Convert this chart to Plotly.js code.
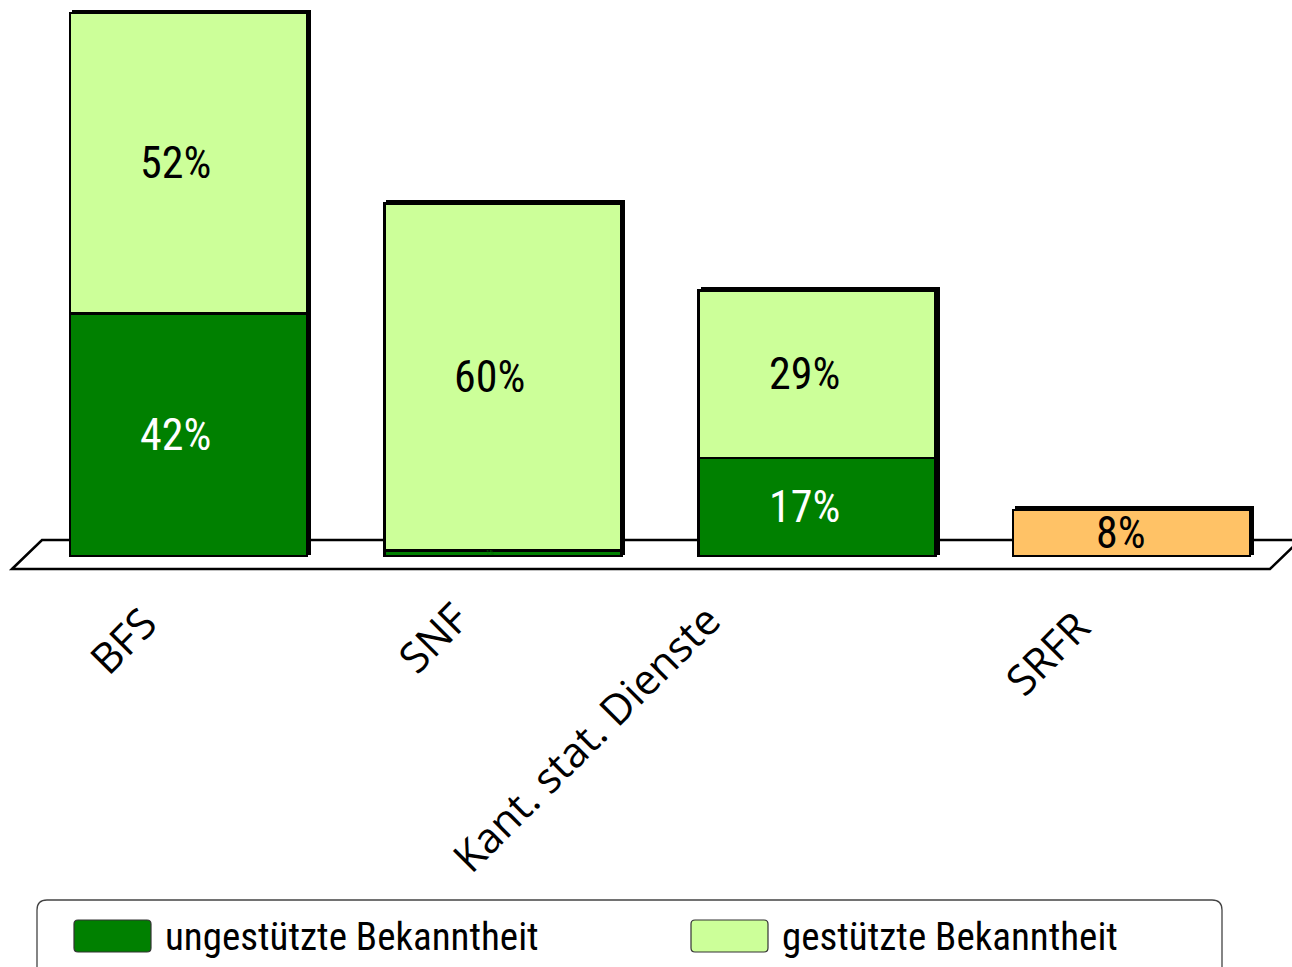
<!DOCTYPE html>
<html>
<head>
<meta charset="utf-8">
<script src="https://cdn.plot.ly/plotly-3.0.1.min.js"></script>
<style>html,body{margin:0;padding:0;background:#fff;}#chart{width:1292px;height:967px;}</style>
</head>
<body>
<div id="chart"></div>
<script>
// ---- data ----
const categories = ['BFS', 'SNF', 'Kant. stat. Dienste', 'SRFR'];
const stackedCategories = ['BFS', 'SNF', 'Kant. stat. Dienste'];
const ungestuetzt = [42, 1, 17];
const gestuetzt = [52, 60, 29];
const srfrCategory = ['SRFR'];
const srfrValue = [8];
const seriesNames = ['ungestützte Bekanntheit', 'gestützte Bekanntheit'];

// ---- styling ----
const W = 1292, H = 967;
const DARK = '#008000', LIGHT = '#CCFF99', ORANGE = '#FFC266';
const NARROW = '"Liberation Sans Narrow", "Arial Narrow", "Roboto Condensed", "DejaVu Sans Condensed", "Liberation Sans", sans-serif';
const HUMAN = '"Open Sans", "Noto Sans", sans-serif';
const xr = [-0.5997, 3.5107];
const yr = [-71.14, 96.25];
const pxPerX = W / (xr[1] - xr[0]);
const pxPerY = H / (yr[1] - yr[0]);
const dxShadow = 3 / pxPerX, dyShadow = 2.5 / pxPerY;
const BARW = 0.754;
const LABEL_XSHIFT = -13;
const px = (x) => x / W;
const py = (y) => 1 - y / H;
const pathPx = (pts) => 'M ' + pts.map(p => px(p[0]) + ',' + py(p[1])).join(' L ') + ' Z';
function roundRect(x0, y0, x1, y1, r) {
  const P = (x, y) => px(x) + ',' + py(y);
  return 'M ' + P(x0 + r, y0) + ' L ' + P(x1 - r, y0) + ' Q ' + P(x1, y0) + ' ' + P(x1, y0 + r) +
    ' L ' + P(x1, y1 - r) + ' Q ' + P(x1, y1) + ' ' + P(x1 - r, y1) +
    ' L ' + P(x0 + r, y1) + ' Q ' + P(x0, y1) + ' ' + P(x0, y1 - r) +
    ' L ' + P(x0, y0 + r) + ' Q ' + P(x0, y0) + ' ' + P(x0 + r, y0) + ' Z';
}
const pct = v => v + '%';

const totals = stackedCategories.map((c, i) => ungestuetzt[i] + gestuetzt[i]).concat(srfrValue);

const traces = [
  { // 3D shadow
    type: 'bar', x: categories, y: totals, xaxis: 'x', yaxis: 'y', width: BARW,
    marker: { color: '#000', line: { width: 2, color: '#000' } }, hoverinfo: 'skip', showlegend: false
  },
  {
    type: 'bar', name: seriesNames[0], x: stackedCategories, y: ungestuetzt, xaxis: 'x2', yaxis: 'y2', width: BARW,
    marker: { color: DARK, line: { width: 2.5, color: '#000' } }, textposition: 'none',
    hoverinfo: 'skip', showlegend: false
  },
  {
    type: 'bar', name: seriesNames[1], x: stackedCategories, y: gestuetzt, xaxis: 'x2', yaxis: 'y2', width: BARW,
    marker: { color: LIGHT, line: { width: 2.5, color: '#000' } }, textposition: 'none',
    hoverinfo: 'skip', showlegend: false
  },
  {
    type: 'bar', name: 'SRFR', x: srfrCategory, y: srfrValue, xaxis: 'x2', yaxis: 'y2', width: BARW,
    marker: { color: ORANGE, line: { width: 2.5, color: '#000' } }, textposition: 'none',
    hoverinfo: 'skip', showlegend: false
  }
];

const hiddenAxis = (range) => ({ range: range, visible: false, showgrid: false, zeroline: false, fixedrange: true });
const xBase = Object.assign(hiddenAxis([xr[0] - dxShadow, xr[1] - dxShadow]), { type: 'category', categoryorder: 'array', categoryarray: categories });
const yBase = hiddenAxis([yr[0] - dyShadow, yr[1] - dyShadow]);
const xTop = Object.assign(hiddenAxis(xr), { type: 'category', categoryorder: 'array', categoryarray: categories, overlaying: 'x' });
const yTop = Object.assign(hiddenAxis(yr), { overlaying: 'y' });

const annotations = [];
// value labels centred in each segment (via the data scales)
stackedCategories.forEach((c, i) => {
  const small = ungestuetzt[i] < 3;
  annotations.push({ xref: 'x2', yref: 'y2', x: c, y: ungestuetzt[i] / 2, xshift: LABEL_XSHIFT, text: pct(ungestuetzt[i]),
    showarrow: false, xanchor: 'center', yanchor: 'middle',
    font: { family: NARROW, size: small ? 7 : 44, color: small ? '#006600' : '#ffffff' } });
  annotations.push({ xref: 'x2', yref: 'y2', x: c, y: ungestuetzt[i] + gestuetzt[i] / 2, xshift: LABEL_XSHIFT, text: pct(gestuetzt[i]),
    showarrow: false, xanchor: 'center', yanchor: 'middle', font: { family: NARROW, size: 44, color: '#000' } });
});
srfrCategory.forEach((c, i) => {
  annotations.push({ xref: 'x2', yref: 'y2', x: c, y: srfrValue[i] / 2, xshift: LABEL_XSHIFT + 3, text: pct(srfrValue[i]),
    showarrow: false, xanchor: 'center', yanchor: 'middle', font: { family: NARROW, size: 44, color: '#000' } });
});

// category labels (pixel offsets from category centre, and label centre heights)
const labelShift = [-67, -71, -232, -85];
const labelCenterY = [640, 637, 737, 652];
categories.forEach((c, i) => annotations.push({
  xref: 'x2', yref: 'paper', x: c, y: py(labelCenterY[i]), xshift: labelShift[i],
  text: c, textangle: -45, showarrow: false, xanchor: 'center', yanchor: 'middle',
  font: { family: HUMAN, size: 42, color: '#000' }
}));

const legendX = [74, 691];
const legendColors = [DARK, LIGHT];
seriesNames.forEach((n, i) => {
  annotations.push({
    xref: 'paper', yref: 'paper', x: px(legendX[i] + 89), y: py(937), text: n, showarrow: false,
    xanchor: 'left', yanchor: 'middle', font: { family: NARROW, size: 39, color: '#000' }
  });
});

const shapes = [
  { type: 'path', xref: 'paper', yref: 'paper', layer: 'below',
    path: pathPx([[12, 569], [42, 540], [1300, 540], [1270, 569]]),
    fillcolor: '#fff', line: { color: '#000', width: 2.5 } },
  { type: 'path', xref: 'paper', yref: 'paper', path: roundRect(37, 900, 1222, 990, 10),
    fillcolor: 'rgba(0,0,0,0)', line: { color: '#444', width: 1.3 } }
];
seriesNames.forEach((n, i) => {
  shapes.push({ type: 'path', xref: 'paper', yref: 'paper', path: roundRect(legendX[i], 920, legendX[i] + 77, 952, 4),
    fillcolor: legendColors[i], line: { color: '#333', width: 1.2 } });
});

const layout = {
  width: W, height: H, margin: { l: 0, r: 0, t: 0, b: 0, pad: 0 },
  paper_bgcolor: '#fff', plot_bgcolor: 'rgba(0,0,0,0)',
  barmode: 'stack', showlegend: false,
  xaxis: xBase, yaxis: yBase, xaxis2: xTop, yaxis2: yTop,
  annotations: annotations, shapes: shapes,
  font: { family: NARROW }
};

Plotly.newPlot('chart', traces, layout, { staticPlot: true, displayModeBar: false });
</script>
</body>
</html>
